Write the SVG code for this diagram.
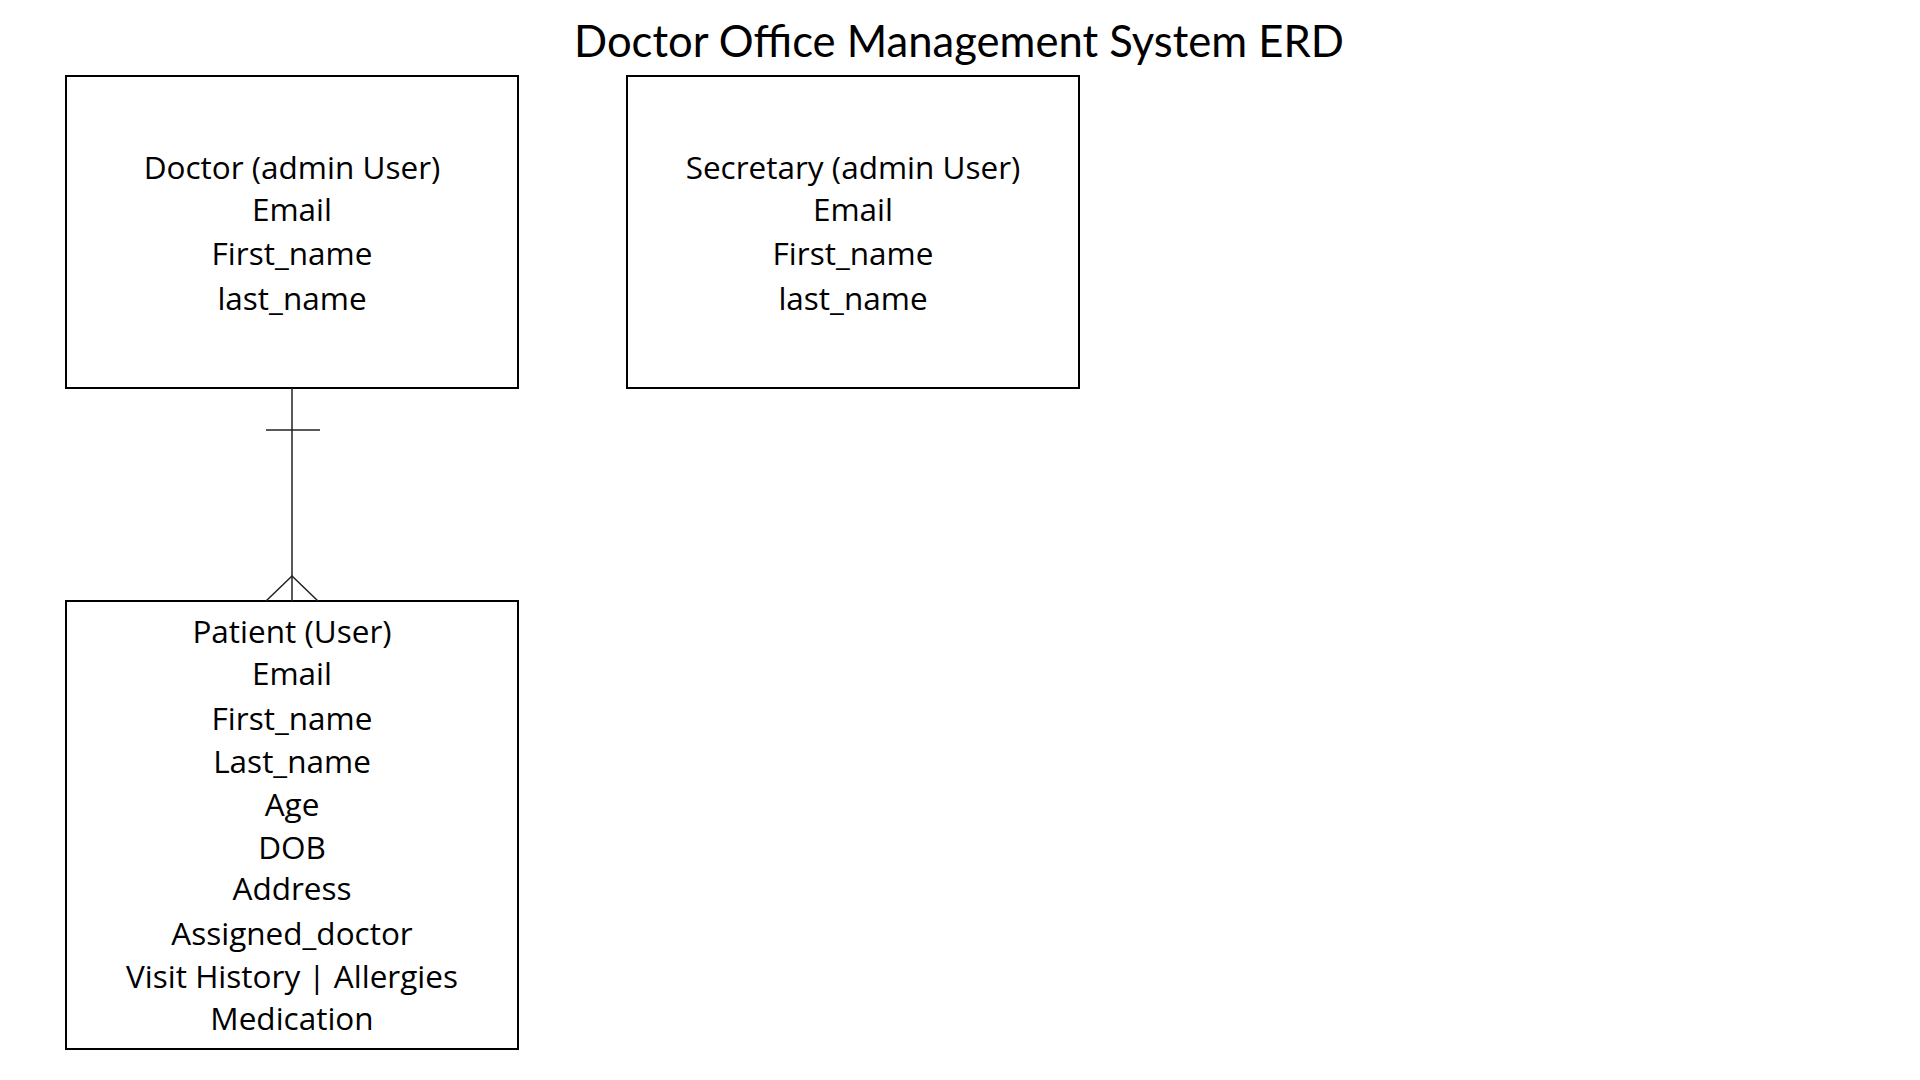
<svg xmlns="http://www.w3.org/2000/svg" width="1920" height="1080" viewBox="0 0 1920 1080">
<style>
.box{fill:#fff;stroke:#000;stroke-width:2}
.t{font-family:"Open Sans",Lato,sans-serif;font-size:31.5px;fill:#000;text-anchor:middle}
.title{font-family:Lato,"Open Sans",sans-serif;font-size:43.6px;fill:#000;text-anchor:middle}
.conn{stroke:#222;stroke-width:1.5;fill:none}
</style>
<rect width="1920" height="1080" fill="#fff"/>
<text class="title" x="959" y="57">Doctor Office Management System ERD</text>
<g id="doctor">
<rect class="box" x="66" y="76" width="452" height="312"/>
<text class="t" x="292" y="179">Doctor (admin User)</text>
<text class="t" x="292" y="221">Email</text>
<text class="t" x="292" y="265">First_name</text>
<text class="t" x="292" y="310">last_name</text>
</g>
<g id="secretary">
<rect class="box" x="627" y="76" width="452" height="312"/>
<text class="t" x="853" y="179">Secretary (admin User)</text>
<text class="t" x="853" y="221">Email</text>
<text class="t" x="853" y="265">First_name</text>
<text class="t" x="853" y="310">last_name</text>
</g>
<g id="patient">
<rect class="box" x="66" y="601" width="452" height="448"/>
<text class="t" x="292" y="643">Patient (User)</text>
<text class="t" x="292" y="685">Email</text>
<text class="t" x="292" y="730">First_name</text>
<text class="t" x="292" y="773">Last_name</text>
<text class="t" x="292" y="816">Age</text>
<text class="t" x="292" y="859">DOB</text>
<text class="t" x="292" y="900">Address</text>
<text class="t" x="292" y="945">Assigned_doctor</text>
<text class="t" x="292" y="988">Visit History | Allergies</text>
<text class="t" x="292" y="1030">Medication</text>
</g>
<g id="connectors">
<line class="conn" x1="292" y1="388" x2="292" y2="601"/>
<line class="conn" x1="266" y1="430" x2="320" y2="430"/>
<polyline class="conn" points="266,601 292,576 318,601"/>
</g>
</svg>
